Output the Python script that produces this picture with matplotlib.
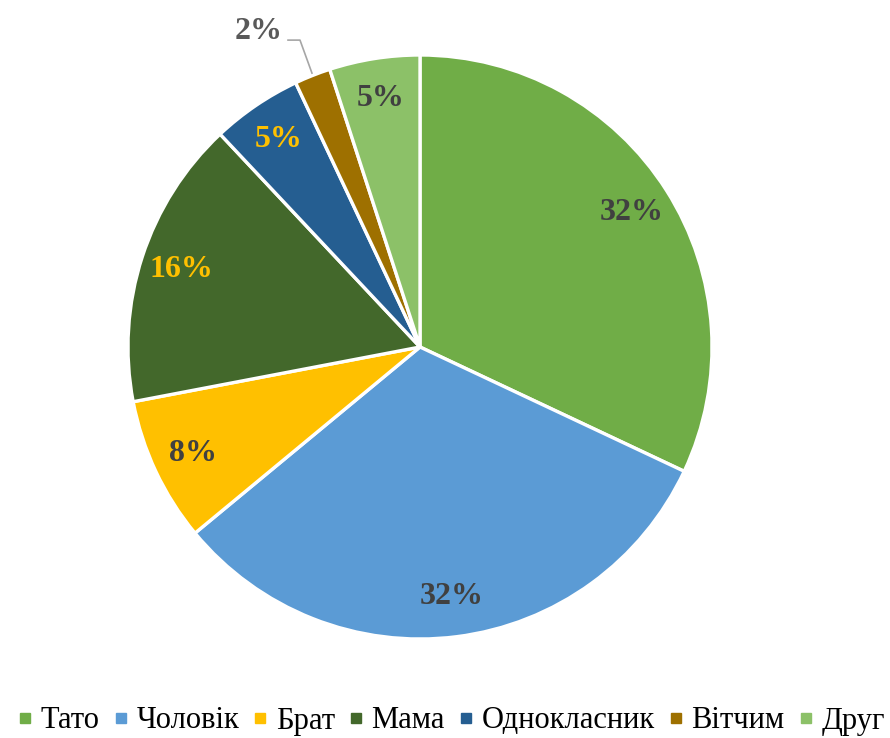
import matplotlib.pyplot as plt
from matplotlib.lines import Line2D

# data
labels = ['Тато', 'Чоловік', 'Брат', 'Мама', 'Однокласник', 'Вітчим', 'Друг']
values = [32, 32, 8, 16, 5, 2, 5]
pct_text = ['32%', '32%', '8%', '16%', '5%', '2%', '5%']
colors = ['#70AD47', '#5B9BD5', '#FFC000', '#43682B', '#255E91', '#9E7000', '#8CC168']
text_colors = ['#404040', '#404040', '#404040', '#FFC000', '#FFC000', '#595959', '#404040']

plt.rcParams['font.family'] = ['Liberation Serif', 'DejaVu Serif']

fig = plt.figure(figsize=(8.9, 7.38), dpi=100)
ax = fig.add_axes([128 / 890, 1 - 639 / 738, 584 / 890, 584 / 738])

wedges, texts = ax.pie(values, colors=colors, startangle=90, counterclock=False,
                       radius=1, labels=pct_text, labeldistance=0.86,
                       wedgeprops=dict(edgecolor='white', linewidth=2.4),
                       textprops=dict(fontsize=23, fontweight='bold'))
for t, c in zip(texts, text_colors):
    t.set_color(c)
    t.set_ha('center')
    t.set_va('center')

# small slice label sits outside with a leader line
small = labels.index('Вітчим')
texts[small].set_visible(False)
ax.plot([-0.452, -0.411, -0.37], [1.051, 1.051, 0.938], color='#A6A6A6',
        lw=1.2, clip_on=False)
ax.text(-0.47, 1.08, pct_text[small], fontsize=23, fontweight='bold',
        color=text_colors[small], ha='right', va='center')

ax.set_xlim(-1, 1)
ax.set_ylim(-1, 1)

handles = [Line2D([], [], marker='s', linestyle='none', markersize=7.5,
                  markerfacecolor=c, markeredgecolor=c) for c in colors]
fig.legend(handles, labels, loc='center', bbox_to_anchor=(0.507, 1 - 721 / 738),
           ncol=7, frameon=False, fontsize=22, handlelength=0.5,
           handletextpad=0.25, columnspacing=0.45, borderaxespad=0)

fig.savefig('out.png', dpi=100, facecolor='white')
